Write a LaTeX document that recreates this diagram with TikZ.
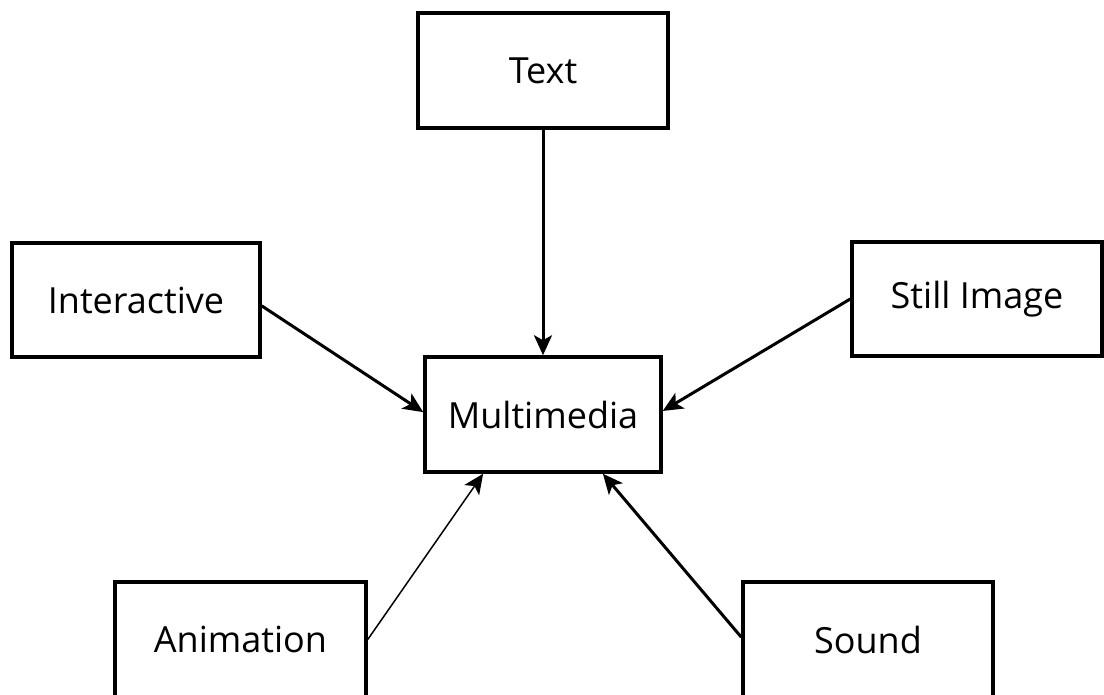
\documentclass[tikz,border=0pt]{standalone}
\usepackage{fontspec}
\setmainfont{Open Sans}
\usetikzlibrary{arrows.meta,calc}
\begin{document}
\begin{tikzpicture}[x=1pt,y=-1pt,
  box/.style={draw,line width=3.5pt,fill=white,inner sep=0pt,
    font=\fontsize{36}{42}\selectfont},
  conn/.style={line width=3pt,-{Stealth[length=20pt,width=18pt,inset=5pt]}},
  thinconn/.style={line width=1.5pt,-{Stealth[length=20pt,width=18pt,inset=5pt]}}]
\useasboundingbox (0,0) rectangle (1104,695);
\node[box,minimum width=250pt,minimum height=115pt] (text) at (543,70.5) {Text};
\node[box,minimum width=248pt,minimum height=114pt] (inter) at (136,300) {Interactive};
\node[box,minimum width=250pt,minimum height=114pt] (still) at (977,299) {Still Image};
\node[box,minimum width=236pt,minimum height=115pt] (mm) at (543,414.5) {Multimedia};
\node[box,minimum width=251pt,minimum height=115pt] (anim) at (240.5,639.5) {Animation};
\node[box,minimum width=250pt,minimum height=115pt] (sound) at (868,639.5) {Sound};
\draw[conn] (text.south) -- (mm.north);
\draw[conn] ($(inter.north east)!0.55!(inter.south east)$) -- ($(mm.north west)!0.48!(mm.south west)$);
\draw[conn] ($(still.north west)!0.5!(still.south west)$) -- ($(mm.north east)!0.47!(mm.south east)$);
\draw[thinconn] (anim.east) -- ($(mm.south west)!0.25!(mm.south east)$);
\draw[conn] ($(sound.north west)!0.48!(sound.south west)$) -- ($(mm.south west)!0.75!(mm.south east)$);
\end{tikzpicture}
\end{document}
